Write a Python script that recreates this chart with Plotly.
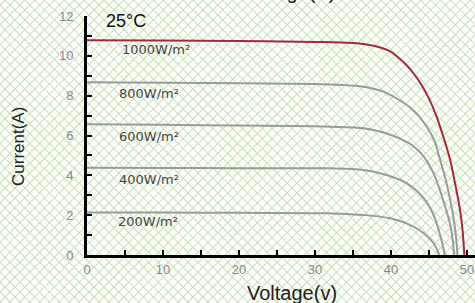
import base64
import plotly.graph_objects as go

# ---- data ----
v_1000 = [0, 10, 20, 30, 35, 37, 38.6, 40, 41, 42, 43, 44, 45, 46, 47, 47.8, 48.4, 49.0, 49.4, 49.65]
i_1000 = [10.78, 10.77, 10.75, 10.7, 10.64, 10.56, 10.42, 10.2, 9.9, 9.55, 9.1, 8.55, 7.85, 6.95, 5.8, 4.75, 3.65, 2.45, 1.3, 0]

v_800 = [0, 10, 20, 30, 33, 36.4, 39, 40.7, 42.9, 44.7, 45.7, 46.4, 47.3, 48.1, 48.5, 48.75]
i_800 = [8.67, 8.65, 8.62, 8.58, 8.55, 8.45, 8.2, 7.87, 7.28, 6.44, 5.75, 4.85, 3.62, 2.15, 1.1, 0]

v_600 = [0, 10, 20, 30, 32, 36.4, 39.4, 42.2, 43.3, 44.3, 45.6, 46.7, 47.8, 48.1, 48.3]
i_600 = [6.56, 6.54, 6.5, 6.46, 6.44, 6.36, 6.11, 5.65, 5.35, 4.95, 4.1, 2.95, 1.5, 0.8, 0]

v_400 = [0, 10, 20, 30, 32, 36.4, 39.4, 42.1, 44.3, 45.6, 46.4, 47.1]
i_400 = [4.38, 4.37, 4.36, 4.35, 4.35, 4.27, 4.02, 3.6, 2.85, 2.01, 1.09, 0]

v_200 = [0, 10, 20, 30, 32, 36.4, 39.9, 42.5, 44.3, 45.6, 46.35]
i_200 = [2.14, 2.13, 2.12, 2.1, 2.09, 2.01, 1.84, 1.51, 1.09, 0.59, 0]

series_names = ["1000W/m²", "800W/m²", "600W/m²", "400W/m²", "200W/m²"]
label_x = [4.3, 3.9, 3.95, 3.9, 3.8]
label_y = [10.3, 8.13, 5.94, 3.77, 1.67]

x_ticks = [0, 10, 20, 30, 40, 50]
y_ticks = [0, 2, 4, 6, 8, 10, 12]

# ---- figure ----
W, H = 475, 303
ML, MR, MT, MB = 87, 0, 16, 48
PW, PH = W - ML - MR, H - MT - MB

fig = go.Figure()
curves = [(v_1000, i_1000, "#a3293b"), (v_800, i_800, "#9a9a9a"), (v_600, i_600, "#9a9a9a"),
          (v_400, i_400, "#9a9a9a"), (v_200, i_200, "#9a9a9a")]
for (vx, iy, col), name in zip(curves, series_names):
    fig.add_trace(go.Scatter(x=vx, y=iy, mode="lines", name=name,
                             line=dict(color=col, width=2, shape="spline", smoothing=1.0),
                             cliponaxis=False, hoverinfo="skip"))

for name, lx, ly in zip(series_names, label_x, label_y):
    fig.add_annotation(x=lx, y=ly, text=name, showarrow=False, xanchor="left", yanchor="middle",
                       font=dict(family="DejaVu Sans", size=13, color="#444"))

# background lattice pattern
s = 7.0
svg = ('<svg xmlns="http://www.w3.org/2000/svg" width="475" height="303">'
       f'<defs><pattern id="p" width="{s}" height="{s}" patternUnits="userSpaceOnUse" '
       f'patternTransform="rotate(45)"><path d="M0 {s/2}H{s}M{s/2} 0V{s}" stroke="#c4e0b0" '
       'stroke-width="1" fill="none"/></pattern></defs>'
       '<rect width="100%" height="100%" fill="white"/>'
       '<rect width="100%" height="100%" fill="url(#p)"/></svg>')
src = "data:image/svg+xml;base64," + base64.b64encode(svg.encode()).decode()
fig.add_layout_image(dict(source=src, xref="paper", yref="paper",
                          x=-ML / PW, y=(H - MB) / PH, sizex=W / PW, sizey=H / PH,
                          xanchor="left", yanchor="top", sizing="stretch", layer="below"))

fig.add_annotation(xref="paper", yref="paper", x=(104 - ML) / PW, y=(H - MB - 21) / PH,
                   text="25°C", showarrow=False, xanchor="left", yanchor="middle",
                   font=dict(family="Arial, Liberation Sans", size=18, color="#111"))
fig.add_annotation(xref="paper", yref="paper", x=(288 - ML) / PW, y=(H - MB + 8) / PH,
                   text="Voltage(V)", showarrow=False, xanchor="center", yanchor="middle",
                   font=dict(family="Arial, Liberation Sans", size=20, color="#222"))
fig.add_annotation(xref="paper", yref="paper", x=(292 - ML) / PW, y=(H - MB - 293) / PH,
                   text="Voltage(v)", showarrow=False, xanchor="center", yanchor="middle",
                   font=dict(family="Arial, Liberation Sans", size=20, color="#222"))
fig.add_annotation(xref="paper", yref="paper", x=(19 - ML) / PW, y=(H - MB - 147) / PH,
                   text="Current(A)", showarrow=False, textangle=-90, xanchor="center", yanchor="middle",
                   font=dict(family="Arial, Liberation Sans", size=17, color="#222"))

fig.update_layout(
    width=W, height=H, margin=dict(l=ML, r=MR, t=MT, b=MB, pad=0, autoexpand=False),
    paper_bgcolor="white", plot_bgcolor="rgba(0,0,0,0)", showlegend=False,
    xaxis=dict(range=[0, PW / 7.6], tickvals=x_ticks, ticktext=[str(t) for t in x_ticks],
               showgrid=False, zeroline=False, showline=True, linecolor="black", linewidth=3,
               ticks="inside", ticklen=5, tickwidth=2, tickcolor="black",
               minor=dict(dtick=5, tick0=0, ticks="inside", ticklen=5, tickwidth=2, tickcolor="black"),
               tickfont=dict(family="Arial, Liberation Sans", size=13, color="#888"), fixedrange=True),
    yaxis=dict(range=[0, 12], tickvals=y_ticks, ticktext=[str(t) for t in y_ticks],
               showgrid=False, zeroline=False, showline=True, linecolor="black", linewidth=3,
               ticks="inside", ticklen=5, tickwidth=2, tickcolor="black",
               minor=dict(dtick=1, tick0=0, ticks="inside", ticklen=5, tickwidth=2, tickcolor="black"),
               tickfont=dict(family="Arial, Liberation Sans", size=13, color="#888"),
               ticklabelstandoff=8, fixedrange=True),
)

fig.write_html("out.html", config={"displayModeBar": False},
               post_script="document.body.style.margin='0';document.body.style.overflow='hidden';")
